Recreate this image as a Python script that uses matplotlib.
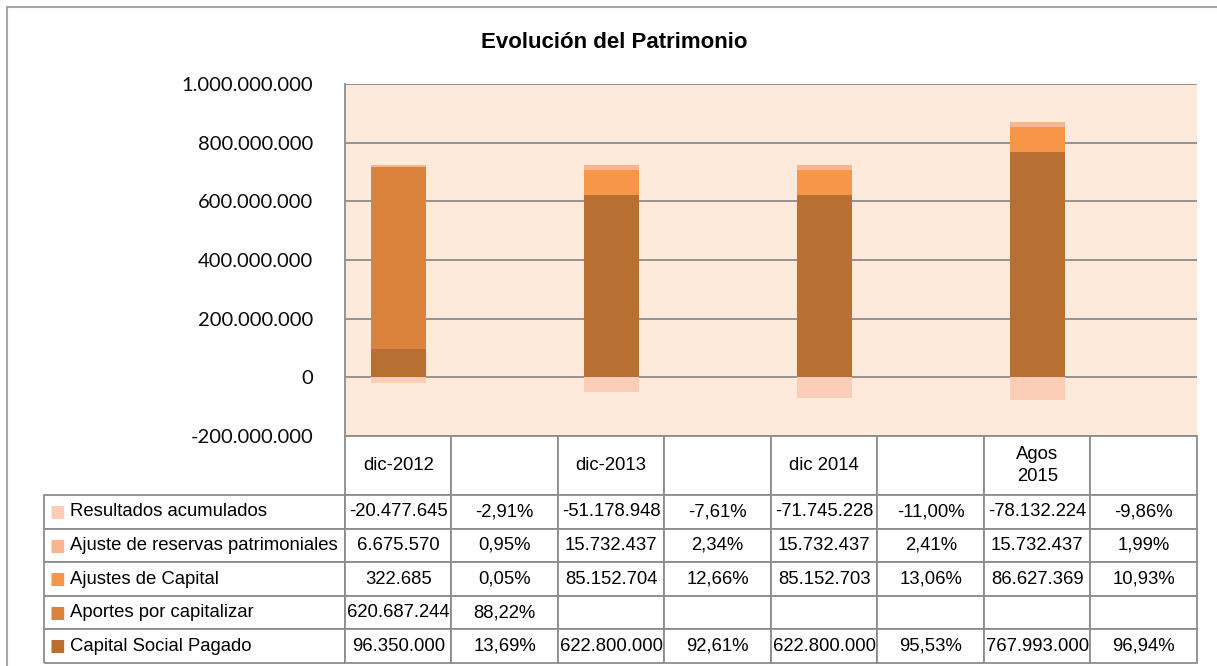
import matplotlib
matplotlib.use('Agg')
import matplotlib.pyplot as plt
from matplotlib.table import Table
from matplotlib.lines import Line2D
from matplotlib.ticker import FuncFormatter

# Data
periods = ['dic-2012', '', 'dic-2013', '', 'dic 2014', '', 'Agos\n2015', '']
bar_pos = [0, 2, 4, 6]
series_names = ['Resultados acumulados', 'Ajuste de reservas patrimoniales',
                'Ajustes de Capital', 'Aportes por capitalizar', 'Capital Social Pagado']
resultados = [-20477645, -51178948, -71745228, -78132224]
reservas = [6675570, 15732437, 15732437, 15732437]
ajustes = [322685, 85152704, 85152703, 86627369]
aportes = [620687244, None, None, None]
capital = [96350000, 622800000, 622800000, 767993000]
pct_resultados = [-2.91, -7.61, -11.00, -9.86]
pct_reservas = [0.95, 2.34, 2.41, 1.99]
pct_ajustes = [0.05, 12.66, 13.06, 10.93]
pct_aportes = [88.22, None, None, None]
pct_capital = [13.69, 92.61, 95.53, 96.94]
yticks = [-200000000, 0, 200000000, 400000000, 600000000, 800000000, 1000000000]

colors = {
    'Resultados acumulados': '#FBCDB7',
    'Ajuste de reservas patrimoniales': '#F9B590',
    'Ajustes de Capital': '#F79646',
    'Aportes por capitalizar': '#DB833D',
    'Capital Social Pagado': '#B87032',
}
narrow = ['Liberation Sans', 'DejaVu Sans']

W, H = 1217, 666
fig = plt.figure(figsize=(W / 100, H / 100), dpi=100)

# chart border
fig.add_artist(Line2D([7 / W, 7 / W], [0, 1 - 7 / H], color='#A6A6A6', lw=1.5))
fig.add_artist(Line2D([7 / W, 1], [1 - 7 / H, 1 - 7 / H], color='#A6A6A6', lw=1.5))

fig.text(614 / W, 1 - 43 / H, 'Evolución del Patrimonio', ha='center', va='center',
         fontsize=16, fontweight='bold', family=narrow)

ax = fig.add_axes([345 / W, 1 - 436 / H, 852 / W, 352 / H])
ax.set_facecolor('#FDEADB')
ax.set_xlim(-0.5, 7.5)
ax.set_ylim(-200000000, 1000000000)
ax.set_yticks(yticks)
ax.yaxis.set_major_formatter(FuncFormatter(lambda v, p: f'{int(v):,}'.replace(',', '.')))
ax.set_xticks([])
ax.grid(axis='y', color='#8C8C8C', lw=1.3)
ax.set_axisbelow(True)
for s in ['top', 'right', 'bottom']:
    ax.spines[s].set_visible(False)
ax.spines['left'].set_color('#8C8C8C')
ax.spines['left'].set_linewidth(1.3)
ax.tick_params(axis='y', length=0, pad=23, labelsize=14.5, labelcolor='#0A0A0A')
for lbl in ax.get_yticklabels():
    lbl.set_family(['Lato', 'DejaVu Sans'])

bw = 0.515
zero = lambda lst: [v or 0 for v in lst]
bottom = [0, 0, 0, 0]
for name, vals in [('Capital Social Pagado', capital), ('Aportes por capitalizar', zero(aportes)),
                   ('Ajustes de Capital', ajustes), ('Ajuste de reservas patrimoniales', reservas)]:
    ax.bar(bar_pos, vals, bw, bottom=bottom, color=colors[name], zorder=3)
    bottom = [b + v for b, v in zip(bottom, vals)]
ax.bar(bar_pos, resultados, bw, color=colors['Resultados acumulados'], zorder=3)

# data table
def fmt_num(v):
    return '' if v is None else f'{v:,}'.replace(',', '.')

def fmt_pct(v):
    return '' if v is None else f'{v:.2f}%'.replace('.', ',')

rows = [
    (resultados, pct_resultados),
    (reservas, pct_reservas),
    (ajustes, pct_ajustes),
    (aportes, pct_aportes),
    (capital, pct_capital),
]

tax = fig.add_axes([44 / W, 1 - 663 / H, 1153 / W, 227 / H])
tax.axis('off')
tbl = Table(tax, bbox=[0, 0, 1, 1])
col_w = [26, 275] + [106.5] * 8
edge = '#8C8C8C'
head_h, row_h = 59, 33.5

for c, w in enumerate(col_w):
    if c < 2:
        cell = tbl.add_cell(0, c, w, head_h, text='', facecolor='none', edgecolor=edge)
        cell.visible_edges = 'open'
    else:
        cell = tbl.add_cell(0, c, w, head_h, text=periods[c - 2], loc='center',
                            facecolor='white', edgecolor=edge)

for r, (name, (vals, pcts)) in enumerate(zip(series_names, rows), start=1):
    texts = []
    for v, p in zip(vals, pcts):
        texts += [fmt_num(v), fmt_pct(p)]
    m = tbl.add_cell(r, 0, col_w[0], row_h, text='■', loc='center', facecolor='white', edgecolor=edge)
    m.visible_edges = 'BLT'
    m.get_text().set_color(colors[name])
    lab = tbl.add_cell(r, 1, col_w[1], row_h, text=name, loc='left', facecolor='white', edgecolor=edge)
    lab.visible_edges = 'BRT'
    lab.PAD = 0.0
    for c, t in enumerate(texts, start=2):
        tbl.add_cell(r, c, col_w[c], row_h, text=t, loc='center', facecolor='white', edgecolor=edge)

tbl.auto_set_font_size(False)
tbl.set_fontsize(13.3)
for (r, c), cell in tbl.get_celld().items():
    cell.set_linewidth(1.3)
    if c == 0 and r > 0:
        cell.get_text().set_fontsize(12)
        cell.get_text().set_family(['DejaVu Sans'])
    else:
        cell.get_text().set_family(narrow)
        cell.get_text().set_linespacing(1.35)
tax.add_table(tbl)

fig.savefig('out.png', dpi=100)
